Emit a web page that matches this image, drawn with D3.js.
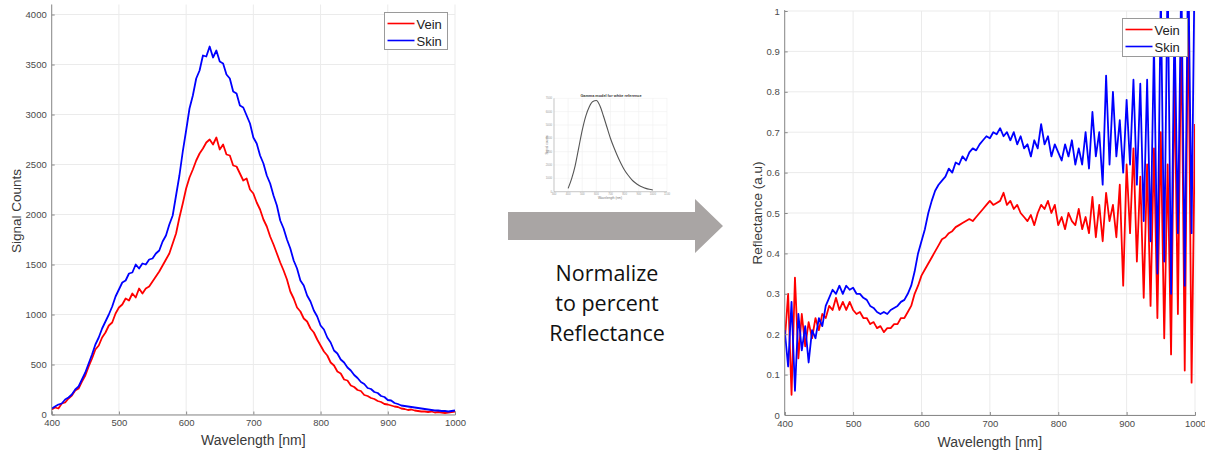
<!DOCTYPE html>
<html><head><meta charset="utf-8">
<script src="https://cdn.jsdelivr.net/npm/d3@7"></script>
<style>
html,body{margin:0;padding:0;background:#fff;}
svg{display:block;}
</style></head>
<body>
<svg id="c" width="1205" height="451"></svg>
<script>
// ---------- DATA ----------
const wavelengths = d3.range(400, 1001, 5);
const xTicks = [400, 500, 600, 700, 800, 900, 1000];
const countTicks = [0, 500, 1000, 1500, 2000, 2500, 3000, 3500, 4000];
const reflTicks = [0, 0.1, 0.2, 0.3, 0.4, 0.5, 0.6, 0.7, 0.8, 0.9, 1];
const seriesNames = ["Vein", "Skin"];

const veinCounts = [50,70,60,110,120,160,190,240,260,330,390,480,560,650,690,770,820,890,920,1010,
1070,1100,1160,1140,1210,1170,1260,1210,1260,1280,1330,1380,1430,1490,1550,1610,1710,1810,1970,2110,
2260,2370,2450,2540,2610,2660,2720,2750,2700,2770,2650,2700,2600,2590,2490,2480,2410,2340,2360,2250,
2210,2120,2050,1950,1880,1780,1700,1610,1520,1440,1350,1230,1160,1070,1030,960,930,860,820,750,
690,630,590,520,490,430,410,350,340,290,275,245,235,195,185,165,155,135,125,105,
100,90,80,75,60,55,45,50,40,35,30,30,25,30,20,25,20,15,20,25,30];

const skinCounts = [60,80,100,110,150,170,200,250,280,350,420,510,600,700,770,860,930,1000,1080,1180,
1250,1320,1340,1410,1420,1500,1460,1510,1500,1550,1560,1610,1640,1730,1790,1900,1990,2190,2390,2630,
2840,3060,3190,3360,3440,3590,3580,3680,3570,3640,3530,3510,3400,3360,3230,3210,3090,3070,2990,2910,
2770,2710,2590,2510,2390,2310,2190,2090,1940,1860,1750,1660,1540,1460,1340,1290,1190,1130,1040,980,
890,850,770,720,640,610,550,520,470,440,395,365,325,305,265,255,225,215,185,175,
145,140,115,105,90,85,80,75,70,65,60,55,50,45,40,40,35,35,30,35,40];

const veinRefl = [0.18,0.30,0.05,0.34,0.14,0.25,0.17,0.23,0.19,0.24,0.21,0.25,0.24,0.27,0.26,0.29,0.26,0.28,0.26,0.28,
0.26,0.25,0.255,0.24,0.24,0.225,0.23,0.215,0.22,0.205,0.215,0.215,0.225,0.225,0.24,0.24,0.255,0.27,0.30,0.32,
0.345,0.36,0.375,0.39,0.405,0.42,0.435,0.44,0.45,0.455,0.465,0.47,0.475,0.48,0.485,0.48,0.49,0.50,0.51,0.52,
0.53,0.52,0.525,0.53,0.55,0.52,0.53,0.51,0.52,0.50,0.49,0.48,0.495,0.47,0.50,0.52,0.51,0.53,0.50,0.52,
0.47,0.49,0.46,0.50,0.48,0.47,0.51,0.46,0.49,0.45,0.54,0.44,0.52,0.43,0.55,0.48,0.52,0.44,0.57,0.32,
0.62,0.45,0.66,0.38,0.59,0.29,0.62,0.27,0.66,0.24,0.70,0.19,0.62,0.15,0.85,0.25,0.98,0.11,1.05,0.08,0.72];

const skinRefl = [0.21,0.12,0.28,0.06,0.25,0.16,0.22,0.13,0.21,0.19,0.24,0.22,0.27,0.29,0.31,0.30,0.32,0.30,0.32,0.31,
0.315,0.30,0.30,0.29,0.285,0.27,0.265,0.255,0.25,0.255,0.25,0.26,0.265,0.27,0.28,0.285,0.30,0.32,0.355,0.40,
0.43,0.46,0.50,0.53,0.555,0.57,0.58,0.59,0.61,0.60,0.625,0.62,0.64,0.63,0.65,0.66,0.655,0.67,0.68,0.69,
0.685,0.70,0.695,0.71,0.69,0.70,0.68,0.70,0.67,0.69,0.66,0.67,0.64,0.68,0.66,0.72,0.67,0.69,0.64,0.67,
0.65,0.63,0.67,0.64,0.68,0.62,0.66,0.62,0.70,0.61,0.75,0.64,0.70,0.57,0.84,0.62,0.80,0.64,0.73,0.60,
0.78,0.62,0.83,0.57,0.82,0.48,0.83,0.43,0.92,0.35,1.05,0.38,1.10,0.30,0.98,0.45,1.10,0.32,1.15,0.45,1.2];

// inset: gamma model for white reference
const gammaWl = [400,425,450,475,500,525,550,575,600,625,650,675,700,725,750,775,800,825,850,875,900,925,950,975,1000];
const gammaVal = [0.25,0.98,1.96,3.29,4.62,5.67,6.37,6.76,6.83,6.44,5.67,4.83,3.99,3.29,2.66,2.1,1.61,1.23,0.91,0.67,0.49,0.35,0.25,0.18,0.13];
const gammaXTicks = [300,400,500,600,700,800,900,1000,1100];
const gammaYTicks = [0,1,2,3,4,5,6,7];

const noteLines = ["Normalize", "to percent", "Reflectance"];
const colors = {Vein: "#ff0000", Skin: "#0000ff"};

// ---------- DRAW ----------
const svg = d3.select("#c");
const FONT = "Liberation Sans, Arial, sans-serif";

function panel(opts) {
  const g = svg.append("g");
  const x = d3.scaleLinear().domain([400, 1000]).range(opts.xr);
  const y = d3.scaleLinear().domain(opts.yd).range(opts.yr);
  g.append("g").selectAll("line").data(xTicks).join("line")
    .attr("x1", d => x(d)).attr("x2", d => x(d))
    .attr("y1", opts.yr[0]).attr("y2", opts.yr[1])
    .attr("stroke", "#ebebeb").attr("stroke-width", 1);
  g.append("g").selectAll("line").data(opts.yTicks).join("line")
    .attr("x1", opts.xr[0]).attr("x2", opts.xr[1])
    .attr("y1", d => y(d)).attr("y2", d => y(d))
    .attr("stroke", "#ebebeb").attr("stroke-width", 1);
  const cid = "clip" + opts.id;
  svg.append("clipPath").attr("id", cid).append("rect")
    .attr("x", opts.xr[0]).attr("y", opts.yr[1])
    .attr("width", opts.xr[1] - opts.xr[0]).attr("height", opts.yr[0] - opts.yr[1]);
  const line = d3.line().x((d, i) => x(wavelengths[i])).y(d => y(d));
  const lg = g.append("g").attr("clip-path", `url(#${cid})`);
  opts.series.forEach(s => {
    lg.append("path").datum(s.values).attr("d", line)
      .attr("fill", "none").attr("stroke", colors[s.name])
      .attr("stroke-width", 1.8).attr("stroke-linejoin", "round");
  });
  const xa = g.append("g").attr("transform", `translate(0,${opts.yr[0]})`)
    .call(d3.axisBottom(x).tickValues(xTicks).tickSize(-3).tickPadding(5).tickFormat(d3.format("d")));
  const ya = g.append("g").attr("transform", `translate(${opts.xr[0]},0)`)
    .call(d3.axisLeft(y).tickValues(opts.yTicks).tickSize(-3).tickPadding(5).tickFormat(opts.yFmt));
  [xa, ya].forEach(a => {
    a.select(".domain").attr("stroke", "#8a8a8a");
    a.selectAll(".tick line").attr("stroke", "#8a8a8a");
    a.selectAll("text").attr("font-family", FONT).attr("font-size", 9.5).attr("fill", "#4a4a4a");
  });
  ya.select(".domain").attr("d", `M0,${opts.yr[0]}V${opts.yTop}`);
  g.append("text").attr("x", (opts.xr[0] + opts.xr[1]) / 2).attr("y", opts.xlabY)
    .attr("text-anchor", "middle").attr("font-family", FONT).attr("font-size", 14)
    .attr("fill", "#3a3a3a").text("Wavelength [nm]");
  g.append("text").attr("transform", `translate(${opts.ylabX},${opts.ylabCY}) rotate(-90)`)
    .attr("text-anchor", "middle").attr("font-family", FONT).attr("font-size", 13.5)
    .attr("fill", "#3a3a3a").text(opts.ylab);
  const L = opts.legend;
  const lgd = g.append("g").attr("transform", `translate(${L.x},${L.y})`);
  lgd.append("rect").attr("width", L.w).attr("height", L.h)
    .attr("fill", "#fff").attr("stroke", "#9a9a9a").attr("stroke-width", 1);
  seriesNames.forEach((n, i) => {
    const yy = 11 + i * 17;
    lgd.append("line").attr("x1", 3).attr("x2", 30).attr("y1", yy).attr("y2", yy)
      .attr("stroke", colors[n]).attr("stroke-width", 1.6);
    lgd.append("text").attr("x", 32).attr("y", yy + 5).attr("font-family", FONT)
      .attr("font-size", 13).attr("fill", "#222").text(n);
  });
}

panel({
  id: "L", xr: [51.7, 455], yd: [0, 4100], yr: [414.5, 4.5], yTop: 4.5,
  yTicks: countTicks, yFmt: d3.format("d"),
  series: [{name: "Vein", values: veinCounts}, {name: "Skin", values: skinCounts}],
  xlabY: 445, ylabX: 21, ylabCY: 211, ylab: "Signal Counts",
  legend: {x: 384.5, y: 12.5, w: 63, h: 37}
});

panel({
  id: "R", xr: [784.7, 1195], yd: [0, 1], yr: [415, 11], yTop: 10,
  yTicks: reflTicks, yFmt: d => d === 0 ? "0" : d === 1 ? "1" : d3.format(".1f")(d),
  series: [{name: "Vein", values: veinRefl}, {name: "Skin", values: skinRefl}],
  xlabY: 447, ylabX: 762, ylabCY: 213, ylab: "Reflectance (a.u)",
  legend: {x: 1122.5, y: 18.5, w: 65, h: 38}
});

// ---------- inset ----------
const ig = svg.append("g");
const ix = d3.scaleLinear().domain([300, 1100]).range([554, 667]);
const iy = d3.scaleLinear().domain([0, 7]).range([191.7, 98.3]);
ig.selectAll("line.gx").data(gammaXTicks).join("line")
  .attr("x1", d => ix(d)).attr("x2", d => ix(d)).attr("y1", 191.7).attr("y2", 98.3)
  .attr("stroke", "#f0f0f0").attr("stroke-width", 0.6);
ig.selectAll("line.gy").data(gammaYTicks).join("line")
  .attr("x1", 554).attr("x2", 667).attr("y1", d => iy(d)).attr("y2", d => iy(d))
  .attr("stroke", "#f0f0f0").attr("stroke-width", 0.6);
ig.append("line").attr("x1", 554).attr("x2", 667).attr("y1", 191.7).attr("y2", 191.7).attr("stroke", "#aaa").attr("stroke-width", 0.6);
ig.append("line").attr("x1", 554).attr("x2", 554).attr("y1", 191.7).attr("y2", 98.3).attr("stroke", "#aaa").attr("stroke-width", 0.6);
ig.selectAll("text.tx").data(gammaXTicks).join("text")
  .attr("x", d => ix(d)).attr("y", 195).attr("text-anchor", "middle")
  .attr("font-family", FONT).attr("font-size", 2.8).attr("fill", "#999").text(d => d);
ig.selectAll("text.ty").data(gammaYTicks).join("text")
  .attr("x", 552).attr("y", d => iy(d) + 1).attr("text-anchor", "end")
  .attr("font-family", FONT).attr("font-size", 2.8).attr("fill", "#999").text(d => d * 1000);
ig.append("path").datum(gammaVal)
  .attr("d", d3.line().x((d, i) => ix(gammaWl[i])).y(d => iy(d)).curve(d3.curveMonotoneX))
  .attr("fill", "none").attr("stroke", "#555").attr("stroke-width", 1.1);
ig.append("text").attr("x", 611).attr("y", 97).attr("text-anchor", "middle")
  .attr("font-family", FONT).attr("font-size", 3.8).attr("font-weight", "bold").attr("fill", "#333")
  .text("Gamma model for white reference");
ig.append("text").attr("x", 610).attr("y", 199).attr("text-anchor", "middle")
  .attr("font-family", FONT).attr("font-size", 3.2).attr("fill", "#777").text("Wavelength (nm)");
ig.append("text").attr("transform", "translate(548,145) rotate(-90)").attr("text-anchor", "middle")
  .attr("font-family", FONT).attr("font-size", 3.2).attr("fill", "#777").text("Signal counts");

// ---------- arrow ----------
svg.append("path")
  .attr("d", d3.line()([[508, 212], [695, 212], [695, 199], [723, 226], [695, 253], [695, 240], [508, 240]]) + "Z")
  .attr("fill", "#a9a5a4");

svg.append("g").selectAll("text").data(noteLines).join("text")
  .attr("x", 607).attr("y", (d, i) => 281 + i * 30)
  .attr("text-anchor", "middle").attr("font-family", "Open Sans, sans-serif")
  .attr("font-size", 21.5).attr("fill", "#111").text(d => d);
</script>
</body></html>
